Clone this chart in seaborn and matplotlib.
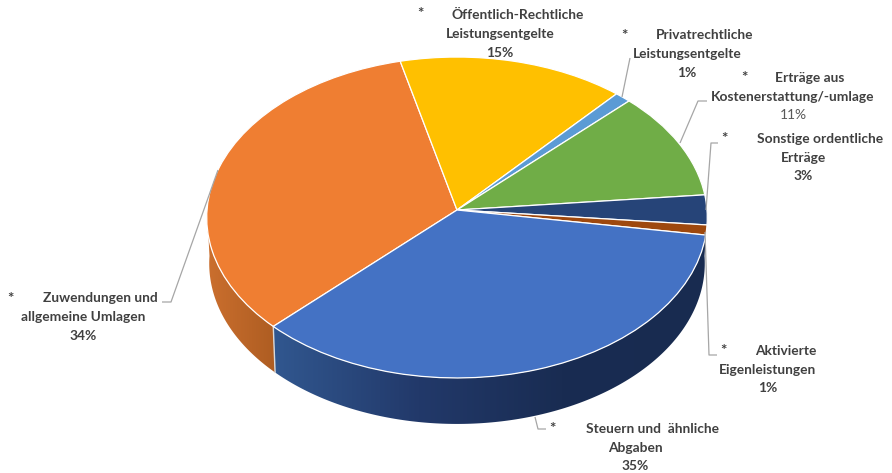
import numpy as np
import matplotlib
matplotlib.use("Agg")
import matplotlib.pyplot as plt
import matplotlib.transforms as mtransforms
from matplotlib.colors import LinearSegmentedColormap
from matplotlib.patches import Polygon
import seaborn as sns

# slices in drawing order, clockwise from the blue/orange seam
categories = ["Zuwendungen und allgemeine Umlagen", "Öffentlich-Rechtliche Leistungsentgelte",
              "Privatrechtliche Leistungsentgelte", "Erträge aus Kostenerstattung/-umlage",
              "Sonstige ordentliche Erträge", "Aktivierte Eigenleistungen",
              "Steuern und ähnliche Abgaben"]
# the printed labels round these
shares = [33.6, 15.3, 1.1, 10.9, 3.0, 1.0, 35.1]
slice_colors = ["#EF7E32", "#FFC000", "#5B9BD5", "#70AD47", "#264478", "#9E480E", "#4472C4"]

label_lines = [
    ["Zuwendungen und", "allgemeine Umlagen", "34%"],
    ["Öffentlich-Rechtliche", "Leistungsentgelte", "15%"],
    ["Privatrechtliche", "Leistungsentgelte", "1%"],
    ["Erträge aus", "Kostenerstattung/-umlage", "11%"],
    ["Sonstige ordentliche", "Erträge", "3%"],
    ["Aktivierte", "Eigenleistungen", "1%"],
    ["Steuern und  ähnliche", "Abgaben", "35%"],
]

# layout, in pixels of the 892x473 picture
star_xy = [(10, 299), (420, 14), (624, 36), (744, 78), (724, 139), (723, 351), (552, 429)]
line_x = [(100, 83, 83), (518, 500, 500), (705, 687, 687), (810, 793, 793),
          (820, 803, 803), (786, 768, 768), (652, 635, 635)]
line_y = [(298, 317, 336), (15, 34, 53), (35, 54, 73), (78, 97, 115),
          (139, 158, 176), (351, 370, 388), (429, 448, 466)]
leaders = [
    [(218, 170), (171, 302), (162, 302)],
    [(622, 97), (630, 58)],
    [(680, 143), (698, 101), (707, 101)],
    [(706, 210), (711, 143), (718, 143)],
    [(705, 232), (709, 355), (717, 355)],
    [(535, 417), (538, 429), (546, 429)],
]

CX, CY = 457, 210
RX, RY = 250, 160.1
TILT = 0.0467
DEPTH = 46
START = 224.7


class TiltTransform(mtransforms.Transform):
    """Projects the flat pie circle onto the picture with a bit of perspective."""
    input_dims = 2
    output_dims = 2

    def transform_non_affine(self, values):
        values = np.asarray(values, dtype=float)
        w = 1 + TILT * values[:, 1]
        return np.column_stack([CX + RX * values[:, 0] / w, CY - RY * values[:, 1] / w])


def rim(deg_from, deg_to, lower=False):
    t = np.radians(np.linspace(deg_from, deg_to, 200))
    pts = TiltTransform().transform_non_affine(np.column_stack([np.cos(t), np.sin(t)]))
    if lower:
        pts[:, 0] = CX + (pts[:, 0] - CX) * 0.99
        pts[:, 1] += DEPTH
    return pts


def draw_side(ax, top_range, bottom_range, colors, x_range):
    cmap = LinearSegmentedColormap.from_list("side", colors)
    outline = np.vstack([rim(*top_range), rim(*bottom_range, lower=True)[::-1]])
    img = ax.imshow(np.linspace(0, 1, 256)[None, :], cmap=cmap, aspect="auto", zorder=1,
                    extent=(x_range[0], x_range[1], 473, 0))
    img.set_clip_path(Polygon(outline, transform=ax.transData))


sns.set_theme(style="white")
plt.rcParams["font.family"] = ["Lato", "DejaVu Sans"]

fig = plt.figure(figsize=(8.92, 4.73), dpi=100, facecolor="white")
ax = fig.add_axes([0, 0, 1, 1])

wedges, _ = ax.pie(shares, colors=slice_colors, startangle=START, counterclock=False,
                   wedgeprops={"edgecolor": "white", "linewidth": 0.9, "clip_on": False, "zorder": 3})
tilt = TiltTransform()
for w in wedges:
    w.set_transform(tilt + ax.transData)

# the two slices whose wall can be seen
ends = START - np.cumsum(shares) * 3.6
orange_end = START
blue_start = ends[-2] + 360
draw_side(ax, (180, orange_end), (180, orange_end), ["#CB6F2E", "#AE5D22"], (207, 275))
draw_side(ax, (orange_end, blue_start), (orange_end, 360),
          ["#31578F", "#22396A", "#192C52", "#182B50"], (274, 707))

seam_top = rim(orange_end, orange_end)[0]
seam_bottom = rim(orange_end, orange_end, lower=True)[0]
ax.plot([seam_top[0], seam_bottom[0]], [seam_top[1], seam_bottom[1]],
        color="#D9D9D9", lw=1, zorder=2)

for pts in leaders:
    xs, ys = zip(*pts)
    ax.plot(xs, ys, color="#A6A6A6", lw=0.9, zorder=4, solid_capstyle="butt")

for i, lines in enumerate(label_lines):
    ax.text(*star_xy[i], "*", ha="center", va="center", fontsize=11,
            fontweight="bold", color="#404040")
    for j, line in enumerate(lines):
        plain = line == "11%"
        ax.text(line_x[i][j], line_y[i][j], line, ha="center", va="center", fontsize=9.9,
                fontweight="normal" if plain else "bold",
                color="#595959" if plain else "#404040")

ax.set_aspect("auto")
ax.set_xlim(0, 892)
ax.set_ylim(473, 0)
ax.axis("off")

fig.savefig("out.png", dpi=100, facecolor="white")
